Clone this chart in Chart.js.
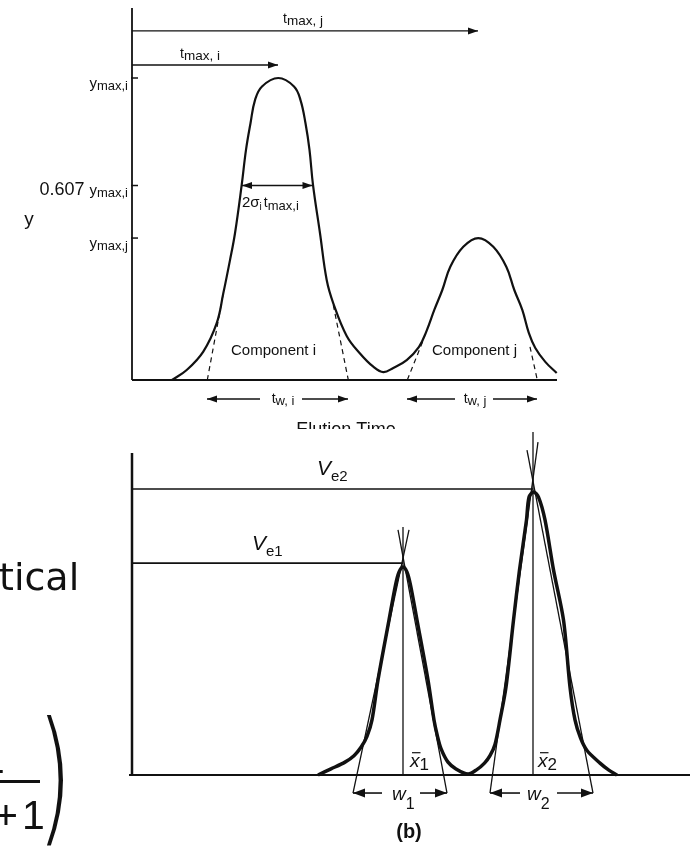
<!DOCTYPE html>
<html>
<head>
<meta charset="utf-8">
<script src="https://cdn.jsdelivr.net/npm/chart.js@4.4.0/dist/chart.umd.min.js"></script>
<style>
  html, body { margin: 0; padding: 0; background: #fff; }
  body { width: 694px; height: 847px; position: relative; overflow: hidden; font-family: "DejaVu Sans", sans-serif; color: #111; }
  canvas { position: absolute; left: 0; }
  #top { top: 0; }
  #bottom { top: 429px; }
  .frag { position: absolute; line-height: 1; white-space: nowrap; }
</style>
</head>
<body>
<canvas id="top" width="694" height="429"></canvas>
<canvas id="bottom" width="694" height="418"></canvas>

<div class="frag" style="left:-1px; top:558px; font-size:38px;">tical</div>
<div class="frag" style="left:0; top:766px; width:8px; height:8px; overflow:hidden;">
  <span style="position:absolute; left:-18px; top:-27px; font-size:41px; line-height:1; font-family:'Liberation Sans';">2</span>
</div>
<div class="frag" style="left:0; top:780px; width:40px; height:2.5px; background:#111;"></div>
<div class="frag" style="left:-6px; top:795px; font-size:41px; font-family:'Liberation Sans';">+</div>
<div class="frag" style="left:22px; top:795px; font-size:41px; font-family:'Liberation Sans';">1</div>
<div class="frag" style="left:37px; top:702px; font-size:146px; font-weight:200; transform:scaleX(0.62); transform-origin:left top;">)</div>

<script>
// ---- top chart: elution time vs. response (y_max,i = 100) ----
const topTime = [4.0, 5.47, 7.13, 8.47, 9.13, 9.8, 10.3, 10.97, 11.4, 11.85, 12.3, 13.0, 14.63,
                 16.2, 16.85, 17.35, 17.75, 18.1, 18.8, 19.47, 20.13, 21.47, 22.8, 24.13, 25.13,
                 26.13, 27.47, 28.7, 29.45, 30.23, 31.03, 31.83, 33.13, 34.63,
                 36.13, 37.43, 38.23, 39.03, 39.68, 40.33, 41.33, 42.47];
const topResponse = [0, 3.3, 9.4, 18.8, 28.7, 39.7, 48.6, 64.6, 76.2, 85.0, 92.7, 97.2, 100,
                     97.2, 92.7, 85.0, 76.2, 64.6, 48.6, 33.1, 25.4, 14.6, 8.8, 4.4, 2.6,
                     4.0, 6.6, 11.0, 16.2, 23.2, 29.8, 37.5, 44.1, 47.0,
                     44.1, 37.5, 29.8, 23.2, 15.6, 10.6, 6.0, 2.3];
const topTickValues = [100, 64.4, 47];
const topTickMain = ['y', '0.607 y', 'y'];
const topTickSub = ['max,i', 'max,i', 'max,j'];
const topAxisTop = 123.2;
const topAxisEnd = 42.5;
const topTmax = [34.6, 14.6];          // t_max,j , t_max,i
const topTmaxLevel = [115.6, 104.3];
const topSigmaSpan = [11.0, 18.05];    // 2 sigma_i t_max,i
const topWidths = [[7.5, 21.6], [27.5, 40.5]];    // t_w,i , t_w,j
const topWidthGaps = [[12.8, 17.0], [32.3, 36.1]];
const topWidthLevel = -6.3;
const topTangents = [[7.53, 0, 9.13, 28.7], [20.13, 24.8, 21.63, 0], [27.53, 0, 29.13, 13.2], [39.8, 11.0, 40.53, 0]];

// ---- bottom chart: elution volume vs. response ----
const bottomVolume = [18.6, 19.9, 21.3, 22.2, 22.9, 23.5, 24.0, 24.6, 25.7, 26.35, 26.7, 27.1, 27.5, 27.85, 28.5, 29.6,
                      30.2, 30.55, 30.9, 31.6, 32.4, 33.6,
                      34.45, 35.25, 35.8, 36.3, 36.8, 37.4, 38.15, 38.75, 39.45, 39.7, 40.15, 40.65, 41.3,
                      42.15, 43.15, 43.8, 44.3, 44.85, 45.5, 46.8, 47.65, 48.5];
const bottomResponse = [0, 1.9, 4.0, 6.0, 8.6, 12.0, 17.1, 29.5, 48.1, 59.0, 63.0, 64.6, 63.0, 59.0, 48.1, 29.5,
                        17.1, 12.0, 8.2, 4.0, 1.9, 0.3,
                        1.6, 3.7, 6.0, 9.5, 17.1, 27.3, 48.1, 63.7, 79.2, 86.3, 87.9, 86.3, 79.2,
                        63.7, 48.1, 27.3, 17.1, 11.5, 7.6, 3.7, 1.6, 0];
const bottomAxisTop = 100;
const bottomAxisEnd = 55.8;
const elutionVolumes = [27.1, 40.1];     // V_e1 , V_e2
const elutionLevels = [65.8, 88.8];
const markerTops = [77.0, 106.5];
const bottomTangents = [[22.1, -5.6, 27.7, 76.1], [31.5, -5.6, 26.6, 76.1], [35.8, -5.6, 40.6, 103.4], [46.1, -5.6, 39.5, 100.9]];
const peakWidths = [[22.1, 31.5], [35.8, 46.1]];   // w1 , w2
const peakWidthGaps = [[25.0, 28.8], [38.8, 42.5]];
const peakWidthLevel = -5.6;

const ink = '#111';

function seg(x1, y1, x2, y2, width, dash) {
  return {
    data: [{ x: x1, y: y1 }, { x: x2, y: y2 }],
    showLine: true, borderColor: ink, borderWidth: width, borderDash: dash || [],
    pointRadius: 0, fill: false, borderCapStyle: 'butt'
  };
}

function curve(xs, ys, width, tension) {
  return {
    data: xs.map((x, i) => ({ x: x, y: ys[i] })),
    showLine: true, borderColor: ink, borderWidth: width, pointRadius: 0, fill: false,
    tension: tension, capBezierPoints: false, borderJoinStyle: 'round'
  };
}

function fontOf(p) {
  return (p.i ? 'italic ' : '') + (p.b ? 'bold ' : '') + p.s + 'px "Liberation Sans", Arial, sans-serif';
}

// texto con subindices
function drawRich(ctx, parts, x, y, align) {
  let total = 0;
  parts.forEach(p => { ctx.font = fontOf(p); p.w = ctx.measureText(p.t).width; total += p.w + (p.gap || 0); });
  let cx = align === 'right' ? x - total : align === 'center' ? x - total / 2 : x;
  parts.forEach(p => {
    ctx.font = fontOf(p);
    ctx.fillText(p.t, cx, y + (p.dy || 0));
    if (p.bar) {
      ctx.lineWidth = 1.2;
      ctx.beginPath();
      ctx.moveTo(cx + 2, y - p.s * 0.75);
      ctx.lineTo(cx + p.w + 1, y - p.s * 0.75);
      ctx.stroke();
    }
    cx += p.w + (p.gap || 0);
  });
}

const annotate = {
  id: 'annotate',
  afterDatasetsDraw(chart, args, opts) {
    const ctx = chart.ctx;
    const px = v => chart.scales.x.getPixelForValue(v);
    const py = v => chart.scales.y.getPixelForValue(v);
    ctx.save();
    ctx.fillStyle = ink;
    ctx.strokeStyle = ink;
    ctx.textBaseline = 'alphabetic';
    ctx.textAlign = 'left';
    (opts.ticks || []).forEach(v => {
      ctx.lineWidth = 1.5;
      ctx.beginPath();
      ctx.moveTo(px(0) - 1, py(v));
      ctx.lineTo(px(0) + 6, py(v));
      ctx.stroke();
    });
    (opts.heads || []).forEach(h => {
      const x = px(h.x), y = py(h.y), L = opts.headLen, W = opts.headHalf;
      ctx.beginPath();
      ctx.moveTo(x, y);
      ctx.lineTo(x - h.dir * L, y - W);
      ctx.lineTo(x - h.dir * L, y + W);
      ctx.closePath();
      ctx.fill();
    });
    (opts.labels || []).forEach(l => drawRich(ctx, l.parts, px(l.x), py(l.y), l.align));
    ctx.restore();
  }
};

function makeChart(id, xr, yr, datasets, annot) {
  return new Chart(document.getElementById(id), {
    type: 'scatter',
    data: { datasets: datasets },
    options: {
      responsive: false,
      animation: false,
      events: [],
      layout: { padding: 0 },
      plugins: { legend: { display: false }, tooltip: { enabled: false }, annotate: annot },
      scales: {
        x: { type: 'linear', min: xr[0], max: xr[1], display: false },
        y: { type: 'linear', min: yr[0], max: yr[1], display: false }
      }
    },
    plugins: [annotate]
  });
}

// ---- top chart ----
const topSets = [
  seg(0, 0, 0, topAxisTop, 1.8),
  seg(0, 0, topAxisEnd, 0, 1.8),
  curve(topTime, topResponse, 2.2, 0.4),
  seg(0, topTmaxLevel[0], topTmax[0], topTmaxLevel[0], 1.4),
  seg(0, topTmaxLevel[1], topTmax[1], topTmaxLevel[1], 1.4),
  seg(topSigmaSpan[0], topTickValues[1], topSigmaSpan[1], topTickValues[1], 1.4)
];
topTangents.forEach(t => topSets.push(seg(t[0], t[1], t[2], t[3], 1.2, [5, 4])));
topWidths.forEach((w, i) => {
  topSets.push(seg(w[0], topWidthLevel, topWidthGaps[i][0], topWidthLevel, 1.4));
  topSets.push(seg(topWidthGaps[i][1], topWidthLevel, w[1], topWidthLevel, 1.4));
});

const topHeads = [
  { x: topTmax[0], y: topTmaxLevel[0], dir: 1 },
  { x: topTmax[1], y: topTmaxLevel[1], dir: 1 },
  { x: topSigmaSpan[0], y: topTickValues[1], dir: -1 },
  { x: topSigmaSpan[1], y: topTickValues[1], dir: 1 }
];
topWidths.forEach(w => {
  topHeads.push({ x: w[0], y: topWidthLevel, dir: -1 });
  topHeads.push({ x: w[1], y: topWidthLevel, dir: 1 });
});

const topLabels = [
  { x: 17.1, y: 118.3, align: 'center', parts: [{ t: 't', s: 14 }, { t: 'max, j', s: 13.5, dy: 2 }] },
  { x: 6.8, y: 106.6, align: 'center', parts: [{ t: 't', s: 14 }, { t: 'max, i', s: 13.5, dy: 2 }] },
  { x: 11.0, y: 57.4, align: 'left', parts: [{ t: '2σ', s: 15 }, { t: 'i', s: 10, dy: 3, gap: 2 }, { t: 't', s: 14 }, { t: 'max,i', s: 13, dy: 3 }] },
  { x: -10.3, y: 51.3, align: 'center', parts: [{ t: 'y', s: 19 }] },
  { x: 14.15, y: 8.3, align: 'center', parts: [{ t: 'Component i', s: 15 }] },
  { x: 34.25, y: 8.3, align: 'center', parts: [{ t: 'Component j', s: 15 }] },
  { x: 15.1, y: -7.6, align: 'center', parts: [{ t: 't', s: 14 }, { t: 'w, i', s: 13, dy: 2 }] },
  { x: 34.3, y: -7.6, align: 'center', parts: [{ t: 't', s: 14 }, { t: 'w, j', s: 13, dy: 2 }] },
  { x: 21.4, y: -18.2, align: 'center', parts: [{ t: 'Elution Time', s: 18 }] }
];
topTickValues.forEach((v, i) => {
  const main = topTickMain[i].split(' ');
  const parts = [];
  if (main.length > 1) parts.push({ t: main[0] + ' ', s: 18 });
  parts.push({ t: main[main.length - 1], s: 15 });
  parts.push({ t: topTickSub[i], s: 13, dy: 2 });
  topLabels.push({ x: -0.4, y: v - 3.3, align: 'right', parts: parts });
});

makeChart('top', [-13.2, 56.2], [-16.23, 125.83], topSets, {
  ticks: topTickValues, heads: topHeads, labels: topLabels, headLen: 10, headHalf: 3.5
});

// ---- bottom chart ----
const bottomSets = [
  seg(0, 0, 0, bottomAxisTop, 2.5),
  seg(-0.3, 0, bottomAxisEnd, 0, 2.2),
  curve(bottomVolume, bottomResponse, 3.5, 0.3)
];
elutionVolumes.forEach((v, i) => {
  bottomSets.push(seg(0, elutionLevels[i], v, elutionLevels[i], 1.6));
  bottomSets.push(seg(v, 0, v, markerTops[i], 1.3));
});
bottomTangents.forEach(t => bottomSets.push(seg(t[0], t[1], t[2], t[3], 1.3)));
peakWidths.forEach((w, i) => {
  bottomSets.push(seg(w[0], peakWidthLevel, peakWidthGaps[i][0], peakWidthLevel, 1.6));
  bottomSets.push(seg(peakWidthGaps[i][1], peakWidthLevel, w[1], peakWidthLevel, 1.6));
});

const bottomHeads = [];
peakWidths.forEach(w => {
  bottomHeads.push({ x: w[0], y: peakWidthLevel, dir: -1 });
  bottomHeads.push({ x: w[1], y: peakWidthLevel, dir: 1 });
});

const bottomLabels = [
  { x: 18.5, y: 93.2, align: 'left', parts: [{ t: 'V', s: 21, i: true }, { t: 'e2', s: 15, dy: 6 }] },
  { x: 12.0, y: 69.9, align: 'left', parts: [{ t: 'V', s: 21, i: true }, { t: 'e1', s: 15, dy: 6 }] },
  { x: 27.8, y: 2.5, align: 'left', parts: [{ t: 'x', s: 19, i: true, bar: true }, { t: '1', s: 17, dy: 3 }] },
  { x: 40.6, y: 2.5, align: 'left', parts: [{ t: 'x', s: 19, i: true, bar: true }, { t: '2', s: 17, dy: 3 }] },
  { x: 26.0, y: -7.8, align: 'left', parts: [{ t: 'w', s: 19, i: true }, { t: '1', s: 16, dy: 9 }] },
  { x: 39.5, y: -7.8, align: 'left', parts: [{ t: 'w', s: 19, i: true }, { t: '2', s: 16, dy: 9 }] },
  { x: 27.7, y: -19.6, align: 'center', parts: [{ t: '(b)', s: 20, b: true }] }
];

makeChart('bottom', [-13.2, 56.2], [-22.36, 107.45], bottomSets, {
  heads: bottomHeads, labels: bottomLabels, headLen: 12, headHalf: 4.5
});
</script>
</body>
</html>
